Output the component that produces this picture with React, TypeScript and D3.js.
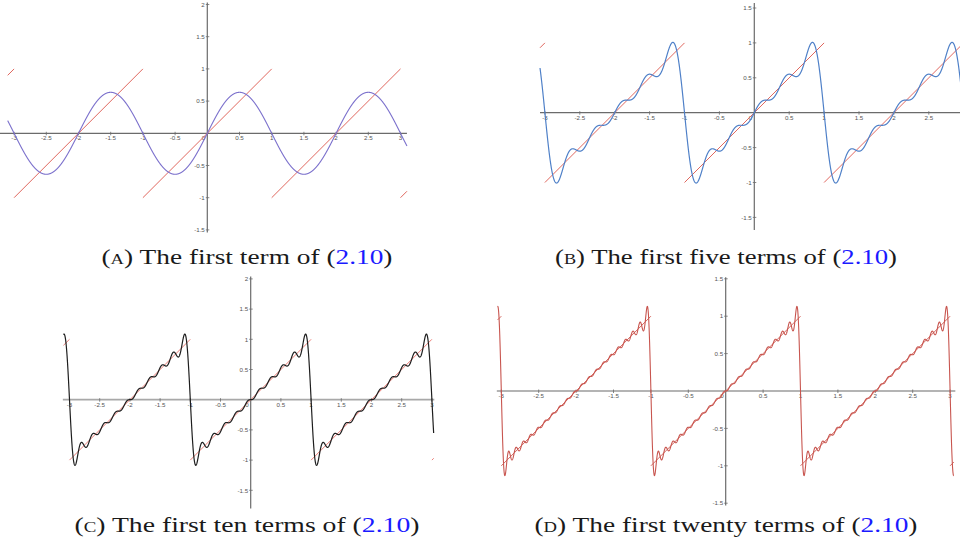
import React from "react";
import * as d3 from "d3";

// Fourier sine coefficients b_n of the period-2 sawtooth f(x) = x on (-1, 1)
const coefficients = [
  0.6366, -0.3183, 0.2122, -0.1592, 0.1273, -0.1061, 0.0909, -0.0796, 0.0707, -0.0637,
  0.0579, -0.0531, 0.049, -0.0455, 0.0424, -0.0398, 0.0374, -0.0354, 0.0335, -0.0318,
];

// Number of terms summed in each panel
const termCounts = [1, 5, 10, 20];
const panelLetters = ["A", "B", "C", "D"];
const captionMiddles = ["term", "five terms", "ten terms", "twenty terms"];
const equationRef = "2.10";

const xTickValues = [-3, -2.5, -2, -1.5, -1, -0.5, 0.5, 1, 1.5, 2, 2.5, 3];
const yTickValuesA = [2, 1.5, 1, 0.5, -0.5, -1, -1.5];
const yTickValuesB = [1.5, 1, 0.5, -0.5, -1, -1.5];
const yTickValuesC = [2, 1.5, 1, 0.5, -0.5, -1, -1.5];
const yTickValuesD = [1.5, 1, 0.5, -0.5, -1, -1.5];

type Panel = {
  ox: number;
  oy: number;
  unit: number;
  xAxis: [number, number];
  yAxis: [number, number];
  curve: [number, number];
  yTicks: number[];
  curveColor: string;
  curveWidth: number;
  sawColor: string;
  xAxisColor: string;
  xAxisWidth: number;
  captionX: number;
  captionY: number;
  captionWidth: number;
};

const panels: Panel[] = [
  {
    ox: 207.3, oy: 133.3, unit: 64.4,
    xAxis: [-3.22, 3.1], yAxis: [2.03, -1.54], curve: [-3.1, 3.1],
    yTicks: yTickValuesA, curveColor: "#7b70cc", curveWidth: 1.1, sawColor: "#e0675e",
    xAxisColor: "#6b6b6b", xAxisWidth: 1.2,
    captionX: 247, captionY: 264, captionWidth: 291,
  },
  {
    ox: 754.3, oy: 112.7, unit: 69.8,
    xAxis: [-3.07, 2.96], yAxis: [1.57, -1.68], curve: [-3.07, 2.96],
    yTicks: yTickValuesB, curveColor: "#4f80c8", curveWidth: 1.2, sawColor: "#e0675e",
    xAxisColor: "#6b6b6b", xAxisWidth: 1.2,
    captionX: 726, captionY: 264, captionWidth: 342,
  },
  {
    ox: 250.7, oy: 399.7, unit: 60.4,
    xAxis: [-3.11, 3.04], yAxis: [2.04, -1.8], curve: [-3.1, 3.03],
    yTicks: yTickValuesC, curveColor: "#1e1e1e", curveWidth: 1.2, sawColor: "#ec7d76",
    xAxisColor: "#a8a8a8", xAxisWidth: 1.8,
    captionX: 247, captionY: 532, captionWidth: 345,
  },
  {
    ox: 725.7, oy: 391, unit: 74.8,
    xAxis: [-3.06, 3.07], yAxis: [1.52, -1.53], curve: [-3.05, 3.05],
    yTicks: yTickValuesD, curveColor: "#c8554f", curveWidth: 1.1, sawColor: "#d4675f",
    xAxisColor: "#6b6b6b", xAxisWidth: 1.2,
    captionX: 726, captionY: 532, captionWidth: 383,
  },
];

function partialSum(x: number, terms: number) {
  let s = 0;
  for (let n = 1; n <= terms; n++) s += coefficients[n - 1] * Math.sin(n * Math.PI * x);
  return s;
}

// Linear pieces of the sawtooth between the jumps at odd integers
function sawtoothPieces(a: number, b: number) {
  const breaks = [a];
  for (let k = Math.ceil(a); k <= Math.floor(b); k++) {
    if (Math.abs(k % 2) === 1 && k > a && k < b) breaks.push(k);
  }
  breaks.push(b);
  const pieces: [number, number][][] = [];
  for (let i = 0; i < breaks.length - 1; i++) {
    const p = breaks[i];
    const q = breaks[i + 1];
    const shift = 2 * Math.round((p + q) / 4);
    pieces.push([
      [p, p - shift],
      [q, q - shift],
    ]);
  }
  return pieces;
}

const tickFont = "Liberation Sans, Arial, sans-serif";

function PanelView({ p, index }: { p: Panel; index: number }) {
  const x = d3
    .scaleLinear()
    .domain([p.xAxis[0], p.xAxis[1]])
    .range([p.ox + p.xAxis[0] * p.unit, p.ox + p.xAxis[1] * p.unit]);
  const y = d3
    .scaleLinear()
    .domain([p.yAxis[1], p.yAxis[0]])
    .range([p.oy - p.yAxis[1] * p.unit, p.oy - p.yAxis[0] * p.unit]);

  const terms = termCounts[index];
  const samples = d3.range(p.curve[0], p.curve[1] + 1e-9, 0.0015);
  const line = d3
    .line<number>()
    .x((d) => x(d))
    .y((d) => y(partialSum(d, terms)));
  const segLine = d3
    .line<[number, number]>()
    .x((d) => x(d[0]))
    .y((d) => y(d[1]));

  const pieces = sawtoothPieces(p.curve[0], p.curve[1]);
  const ticksX = xTickValues.filter((t) => t >= p.xAxis[0] && t <= p.xAxis[1]);

  return (
    <g>
      {/* axes */}
      <line x1={x(p.xAxis[0])} x2={x(p.xAxis[1])} y1={y(0)} y2={y(0)} stroke={p.xAxisColor} strokeWidth={p.xAxisWidth} />
      <line x1={x(0)} x2={x(0)} y1={y(p.yAxis[0])} y2={y(p.yAxis[1])} stroke="#6b6b6b" strokeWidth={1.2} />
      {ticksX.map((t) => (
        <g key={"x" + t}>
          <line x1={x(t)} x2={x(t)} y1={y(0) - 1.5} y2={y(0) + 2} stroke="#6b6b6b" strokeWidth={0.8} />
          <text x={x(t)} y={y(0) + 6.8} fontSize={6.2} textAnchor="middle" fill="#555" style={{ fontFamily: tickFont }}>
            {String(t)}
          </text>
        </g>
      ))}
      <text x={x(0) - 2} y={y(0) + 6.8} fontSize={6.2} textAnchor="end" fill="#555" style={{ fontFamily: tickFont }}>
        0
      </text>
      {p.yTicks.map((t) => (
        <g key={"y" + t}>
          <line x1={x(0) - 1.5} x2={x(0) + 2} y1={y(t)} y2={y(t)} stroke="#6b6b6b" strokeWidth={0.8} />
          <text x={x(0) - 2.5} y={y(t) + 2.2} fontSize={6.2} textAnchor="end" fill="#555" style={{ fontFamily: tickFont }}>
            {String(t)}
          </text>
        </g>
      ))}
      {/* sawtooth target */}
      {pieces.map((seg, i) => (
        <path key={i} d={segLine(seg as [number, number][]) || ""} fill="none" stroke={p.sawColor} strokeWidth={1} />
      ))}
      {/* partial Fourier sum */}
      <path d={line(samples) || ""} fill="none" stroke={p.curveColor} strokeWidth={p.curveWidth} strokeLinejoin="round" />
      {/* caption */}
      <text
        x={p.captionX}
        y={p.captionY}
        textAnchor="middle"
        style={{ fontFamily: "Liberation Serif", fontSize: "22px" }}
        fill="#1a1a1a"
        textLength={p.captionWidth}
        lengthAdjust="spacingAndGlyphs"
      >
        (<tspan style={{ fontSize: "15px" }}>{panelLetters[index]}</tspan>) The first {captionMiddles[index]} of (
        <tspan fill="#1a1aff">{equationRef}</tspan>)
      </text>
    </g>
  );
}

export default function App() {
  return (
    <div style={{ position: "absolute", left: 0, top: 0 }}>
      <svg width={960} height={552} viewBox="0 0 960 552" style={{ display: "block", background: "#fff" }}>
        {panels.map((p, i) => (
          <PanelView key={i} p={p} index={i} />
        ))}
      </svg>
    </div>
  );
}
